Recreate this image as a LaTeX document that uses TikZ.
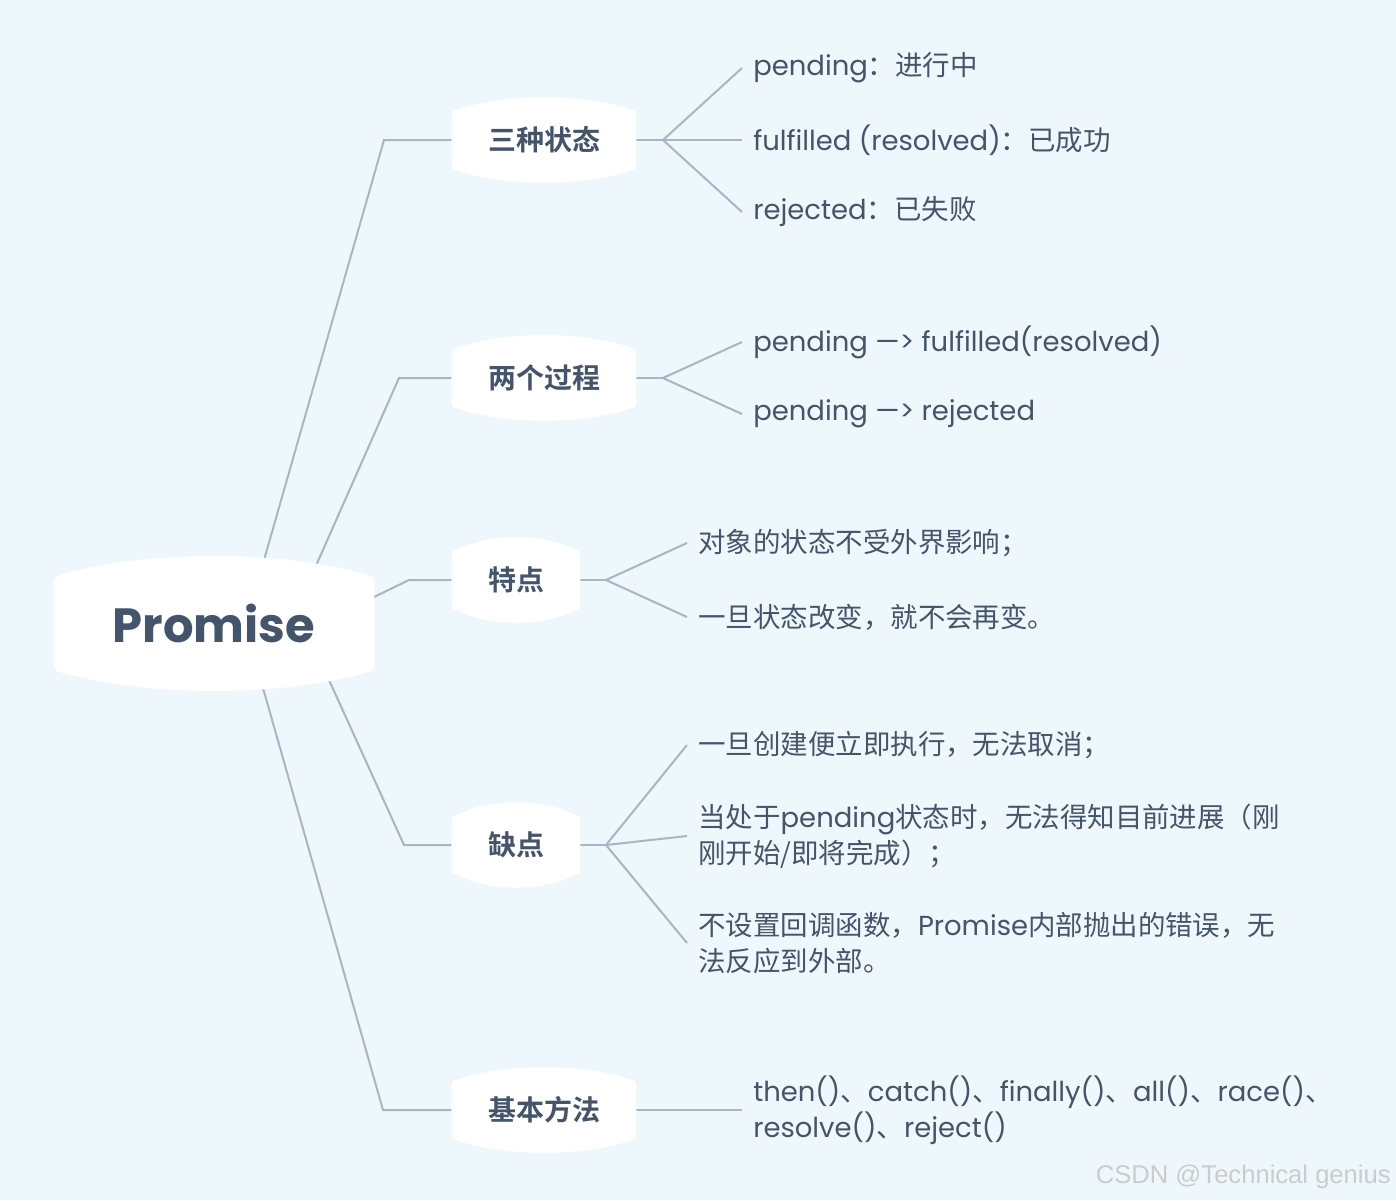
\documentclass[tikz,border=0pt]{standalone}
\usepackage{fontspec}
\setmainfont{Poppins}
\newfontfamily\zh{Noto Sans CJK SC}[BoldFont={Noto Sans CJK SC Bold}]
\newfontfamily\wmfont{Liberation Sans}
\usetikzlibrary{backgrounds,calc}
\definecolor{ink}{HTML}{44546A}
\definecolor{linkcol}{HTML}{A7B5C5}
\definecolor{paper}{HTML}{EEF7FB}

% white box with bulged top and bottom: name, bulge, corner, control offset
\newcommand\bulgebox[4]{%
  \fill[boxfill] ([yshift=#3]#1.south west) -- ([yshift=-#3]#1.north west)
    .. controls (#1.north west) .. ([shift={(#3,0.15*#2)}]#1.north west)
    .. controls ([shift={(#4,4/3*#2)}]#1.north west) and ([shift={(-#4,4/3*#2)}]#1.north east)
    .. ([shift={(-#3,0.15*#2)}]#1.north east)
    .. controls (#1.north east) .. ([yshift=-#3]#1.north east)
    -- ([yshift=#3]#1.south east)
    .. controls (#1.south east) .. ([shift={(-#3,-0.15*#2)}]#1.south east)
    .. controls ([shift={(-#4,-4/3*#2)}]#1.south east) and ([shift={(#4,-4/3*#2)}]#1.south west)
    .. ([shift={(#3,-0.15*#2)}]#1.south west)
    .. controls (#1.south west) .. cycle;}

\begin{document}
\begin{tikzpicture}[x=0.75pt,y=-0.75pt,
    link/.style={draw=linkcol,line width=1.5pt},
    boxfill/.style={fill=white},
    topic/.style={text=ink,inner sep=0pt,minimum height=43.5pt,
      font=\fontsize{21}{24}\selectfont\zh\bfseries},
    leaf/.style={text=ink,anchor=west,inner xsep=8.25pt,inner ysep=0pt,
      align=left,font=\fontsize{20.6}{27}\selectfont},
    wmark/.style={text=black!20,inner sep=0pt,font=\fontsize{19.2}{21}\selectfont\wmfont}]

  % central topic
  \node[text=ink,inner sep=0pt,minimum width=240pt,minimum height=69.75pt,
    font=\fontsize{36}{40}\selectfont\bfseries] (root) at (214,623.5) {Promise};

  % first level
  \node[topic,minimum width=138pt] (s1) at (544,140) {三种状态};
  \node[topic,minimum width=138pt] (s2) at (544,378) {两个过程};
  \node[topic,minimum width=96pt] (s3) at (516,580) {特点};
  \node[topic,minimum width=96pt] (s4) at (516,845) {缺点};
  \node[topic,minimum width=138pt] (s5) at (544,1110) {基本方法};

  % leaves
  \node[leaf] (st1) at (742,68) {pending{\zh ：进行中}};
  \node[leaf] (st2) at (742,140) {fulfilled (resolved){\zh ：已成功}};
  \node[leaf] (st3) at (742,212) {rejected{\zh ：已失败}};
  \node[leaf] (pr1) at (742,342) {pending —> fulfilled(resolved)};
  \node[leaf] (pr2) at (742,414) {pending —> rejected};
  \node[leaf] (ft1) at (687,543) {{\zh 对象的状态不受外界影响；}};
  \node[leaf] (ft2) at (687,617) {{\zh 一旦状态改变，就不会再变。}};
  \node[leaf] (df1) at (687,745) {{\zh 一旦创建便立即执行，无法取消；}};
  \node[leaf] (df2) at (687,836) {{\zh 当处于}pending{\zh 状态时，无法得知目前进展（刚}\\
    {\zh 刚开始/即将完成）；}};
  \node[leaf] (df3) at (687,943) {{\zh 不设置回调函数，}Promise{\zh 内部抛出的错误，无}\\
    {\zh 法反应到外部。}};
  \node[leaf] (mt1) at (742,1110) {then(){\zh 、}catch(){\zh 、}finally(){\zh 、}all(){\zh 、}race(){\zh 、}\\
    resolve(){\zh 、}reject()};

  \node[wmark,anchor=east] (wm) at (1391,1177) {CSDN @Technical genius};

  % branch points
  \coordinate (r1) at (264,560);  \coordinate (b1) at (384,140);
  \coordinate (r2) at (315,568);  \coordinate (b2) at (399,378);
  \coordinate (r3) at (372,598);  \coordinate (b3) at (409,580);
  \coordinate (r4) at (329,680);  \coordinate (b4) at (404,845);
  \coordinate (r5) at (263,688);  \coordinate (b5) at (383,1110);
  \coordinate (f1) at (663,140);
  \coordinate (f2) at (663,378);
  \coordinate (f3) at (606,580);
  \coordinate (f4) at (606,845);

  \begin{scope}[on background layer]
    \fill[paper] (0,0) rectangle (1396,1200);
    \draw[link] (r1) -- (b1) -- (s1.west);
    \draw[link] (r2) -- (b2) -- (s2.west);
    \draw[link] (r3) -- (b3) -- (s3.west);
    \draw[link] (r4) -- (b4) -- (s4.west);
    \draw[link] (r5) -- (b5) -- (s5.west);
    \draw[link] (s1.east) -- (f1);
    \draw[link] (s2.east) -- (f2);
    \draw[link] (s3.east) -- (f3);
    \draw[link] (s4.east) -- (f4);
    \draw[link] (s5.east) -- (mt1.west);
    \foreach \t in {st1,st2,st3} \draw[link] (f1) -- (\t.west);
    \foreach \t in {pr1,pr2} \draw[link] (f2) -- (\t.west);
    \foreach \t in {ft1,ft2} \draw[link] (f3) -- (\t.west);
    \foreach \t in {df1,df2,df3} \draw[link] (f4) -- (\t.west);
    \bulgebox{root}{15pt}{7.5pt}{72pt}
    \foreach \n in {s1,s2,s5} {\bulgebox{\n}{9.75pt}{6pt}{41pt}}
    \foreach \n in {s3,s4} {\bulgebox{\n}{9.75pt}{6pt}{29pt}}
  \end{scope}
\end{tikzpicture}
\end{document}
